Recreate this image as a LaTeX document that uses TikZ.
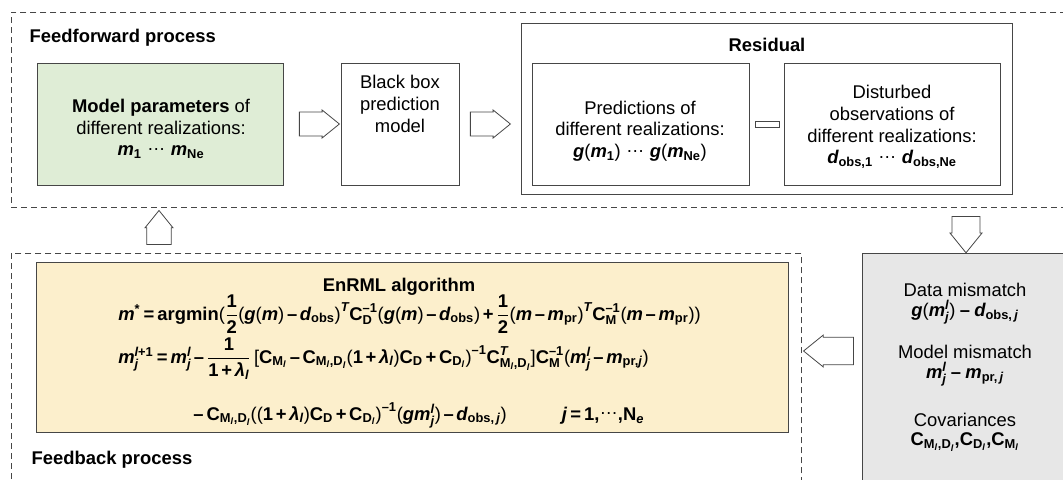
\documentclass[tikz,border=0pt]{standalone}
\usepackage{amsmath}
\usepackage{fontspec}
\setmainfont{Liberation Sans}
\usetikzlibrary{shapes.arrows,positioning}
\definecolor{paramgreen}{RGB}{223,237,214}
\definecolor{algyellow}{RGB}{252,239,204}
\definecolor{mismgray}{RGB}{231,231,231}
\definecolor{linegray}{RGB}{70,70,70}
\newcommand{\basefont}{\fontsize{13.8}{16.3}\selectfont}
% text pieces inside math
\newcommand{\tb}[1]{\text{\bfseries #1}}
\newcommand{\ti}[1]{\text{\bfseries\itshape #1}}
\newcommand{\tr}[1]{\text{\normalfont #1}}
\newcommand{\mn}{\mathbin{\tb{–}}}
\newcommand{\pl}{\mathbin{\tb{+}}}
\newcommand{\eqs}{\mathrel{\tb{=}}}
\newcommand{\cds}{\text{\normalfont\raisebox{0.28em}{…}}}
\newcommand{\mjl}{\ti{m}^{\ti{l}}_{\ti{j}}}
\newcommand{\CMD}{\tb{C}_{\tb{M}_{\ti{l}}\tb{,D}_{\ti{l}}}}
\newcommand{\lam}{\ti{λ}_{\ti{l}}}
\tikzset{
	procframe/.style={draw=linegray, dash pattern=on 4.5pt off 3pt, line width=0.6pt, inner sep=0pt, anchor=north west},
	box/.style={draw=linegray, line width=0.8pt, inner sep=0pt, anchor=north west},
	boxsize/.style 2 args={minimum width=#1*0.75pt, minimum height=#2*0.75pt},
	boxtext/.style={align=center, inner sep=0pt},
	formula/.style={anchor=base west, inner sep=0pt, execute at begin node={\medmuskip=2.5mu\thickmuskip=3mu}},
	hollow/.style={single arrow, draw=linegray, fill=white, line width=0.6pt, inner sep=5.6pt,
			minimum height=30pt, minimum width=21pt, single arrow head extend=1pt, single arrow tip angle=78},
	heading/.style={font=\basefont\bfseries},
}

\begin{document}
\begin{tikzpicture}[x=0.75pt, y=-0.75pt, font=\basefont]
	\useasboundingbox (0,0) rectangle (1063,479);
	\clip (0,0) rectangle (1063,479);

	% feedforward process
	\node[procframe, boxsize={1080}{195}] (ffwd) at (11,12) {};
	\node[heading, anchor=west] (fftitle) at (25,38) {Feedforward process};
	\node[box, fill=paramgreen, boxsize={246}{122}] (params) at (37,63) {};
	\node[boxtext] (paramstext) at (161,129)
		{\textbf{Model parameters} of\\different realizations:\\$\ti{m}_{\tb{1}}\;\cds\;\ti{m}_{\tb{Ne}}$};
	\node[box, boxsize={118}{122}] (blackbox) at (341,63) {};
	\node[boxtext] (blackboxtext) at (400,104) {Black box\\prediction\\model};
	\node[box, boxsize={491}{171}] (residual) at (521,23) {};
	\node[heading] (restitle) at (767,45) {Residual};
	\node[box, boxsize={217}{122}] (pred) at (532,63) {};
	\node[boxtext] (predtext) at (640,131)
		{Predictions of\\different realizations:\\$\ti{g}\tr{(}\ti{m}_{\tb{1}}\tr{)}\;\cds\;\ti{g}\tr{(}\ti{m}_{\tb{Ne}}\tr{)}$};
	\node[box, boxsize={24}{6}] (minus) at (755,121) {};
	\node[box, boxsize={216}{122}] (disturbed) at (784,63) {};
	\node[boxtext] (disturbedtext) at (892,127)
		{Disturbed\\observations of\\different realizations:\\$\ti{d}_{\tb{obs,1}}\;\cds\;\ti{d}_{\tb{obs,Ne}}$};
	\node[hollow] (arr1) at (312,124) {};
	\node[hollow] (arr2) at (483,124) {};

	% feedback process
	\node[procframe, boxsize={790}{300}] (fback) at (11,253) {};
	\node[box, fill=algyellow, boxsize={752}{170}] (enrml) at (36,262) {};
	\node[heading] (algtitle) at (399,287) {EnRML algorithm};
	\node[formula] (eqmin) at (118,320)
		{$\ti{m}^{\tb{*}}\eqs\tb{argmin}\tr{(}\dfrac{\tb{1}}{\tb{2}}\tr{(}\ti{g}\tr{(}\ti{m}\tr{)}\mn\ti{d}_{\tb{obs}}\tr{)}^{\ti{T}}\tb{C}^{\tb{–1}}_{\tb{D}}\tr{(}\ti{g}\tr{(}\ti{m}\tr{)}\mn\ti{d}_{\tb{obs}}\tr{)}\pl\dfrac{\tb{1}}{\tb{2}}\tr{(}\ti{m}\mn\ti{m}_{\tb{pr}}\tr{)}^{\ti{T}}\tb{C}^{\tb{–1}}_{\tb{M}}\tr{(}\ti{m}\mn\ti{m}_{\tb{pr}}\tr{))}$};
	\node[formula] (equpd) at (118,363)
		{$\ti{m}^{\ti{l}\tb{+1}}_{\ti{j}}\eqs\mjl\mn\dfrac{\tb{1}}{\tb{1}\pl\lam}\;\tr{[}\tb{C}_{\tb{M}_{\ti{l}}}\mn\CMD\tr{(}\tb{1}\pl\lam\tr{)}\tb{C}_{\tb{D}}\pl\tb{C}_{\tb{D}_{\ti{l}}}\tr{)}^{\tb{–1}}\tb{C}^{\ti{T}}_{\tb{M}_{\ti{l}}\tb{,D}_{\ti{l}}}\tr{]}\tb{C}^{\tb{–1}}_{\tb{M}}\tr{(}\mjl\mn\ti{m}_{\tb{pr,}\ti{j}}\tr{)}$};
	\node[formula] (eqcorr) at (193,420)
		{$\mn\;\CMD\tr{((}\tb{1}\pl\lam\tr{)}\tb{C}_{\tb{D}}\pl\tb{C}_{\tb{D}_{\ti{l}}}\tr{)}^{\tb{–1}}\tr{(}\ti{g}\mjl\tr{)}\mn\ti{d}_{\tb{obs,}\,\ti{j}}\tr{)}\qquad\quad\ti{j}\eqs\tb{1,}\cds\tb{,N}_{\ti{e}}$};
	\node[heading, anchor=west] (fbtitle) at (27,460) {Feedback process};

	% mismatch terms
	\node[box, fill=mismgray, boxsize={220}{300}] (mismatch) at (862,253) {};
	\node[boxtext] (datamis) at (965,304)
		{Data mismatch\\[-1.5pt]$\ti{g}\tr{(}\mjl\tr{)}\mn\ti{d}_{\tb{obs,}\,\ti{j}}$};
	\node[boxtext] (modelmis) at (965,366)
		{Model mismatch\\[-1.5pt]$\mjl\mn\ti{m}_{\tb{pr,}\,\ti{j}}$};
	\node[boxtext] (covs) at (965,432)
		{Covariances\\[-1.5pt]$\CMD\tb{,}\tb{C}_{\tb{D}_{\ti{l}}}\tb{,}\tb{C}_{\tb{M}_{\ti{l}}}$};

	\node[hollow, rotate=270, minimum height=26pt, minimum width=24pt, inner sep=6.8pt] (arrdown) at (966,226) {};
	\node[hollow, rotate=180, minimum height=37.5pt, minimum width=24pt] (arrleft) at (837,351) {};
	\node[hollow, rotate=90, minimum height=25.5pt, inner sep=6.3pt] (arrup) at (159,235) {};
\end{tikzpicture}
\end{document}
